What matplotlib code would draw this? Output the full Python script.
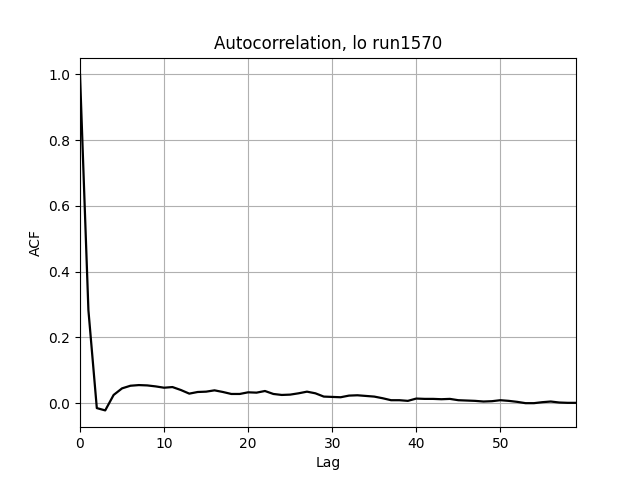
import matplotlib
matplotlib.use("Agg")
import matplotlib.pyplot as plt
import numpy as np

# ACF values, lags 0..59
acf = [
    1.0, 0.283, -0.015, -0.022, 0.025, 0.045, 0.053, 0.055, 0.054, 0.051,
    0.047, 0.049, 0.040, 0.029, 0.034, 0.035, 0.039, 0.034, 0.028, 0.028,
    0.033, 0.032, 0.037, 0.028, 0.025, 0.026, 0.030, 0.035, 0.030, 0.020,
    0.019, 0.018, 0.023, 0.024, 0.022, 0.020, 0.015, 0.009, 0.009, 0.007,
    0.014, 0.013, 0.013, 0.012, 0.013, 0.009, 0.008, 0.007, 0.005, 0.006,
    0.009, 0.007, 0.004, 0.000, 0.000, 0.003, 0.005, 0.002, 0.001, 0.001,
]
lags = np.arange(len(acf))

fig, ax = plt.subplots(figsize=(6.4, 4.8), dpi=100)
ax.plot(lags, acf, color="black", linewidth=1.6)
ax.set_xlim(0, len(acf) - 1)
ax.grid(True)
ax.set_xlabel("Lag")
ax.set_ylabel("ACF")
ax.set_title("Autocorrelation, lo run1570")

fig.savefig("out.png")
